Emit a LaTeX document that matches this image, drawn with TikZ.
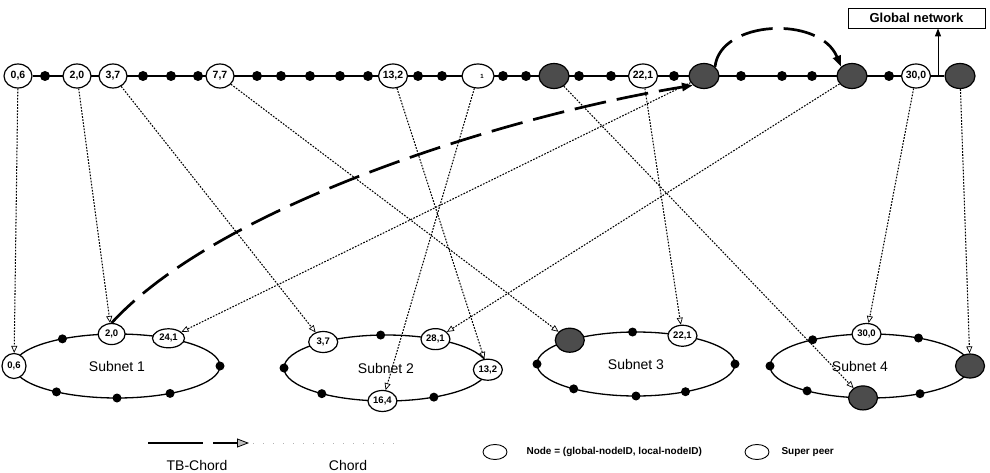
\documentclass[tikz,border=0pt]{standalone}
\usepackage{fontspec}
\setmainfont{Liberation Sans}
\usetikzlibrary{shapes.geometric,arrows.meta,backgrounds}
\begin{document}
\begin{tikzpicture}[x=1pt,y=-1pt,
  ring/.style={line width=2pt},
  subring/.style={line width=1.3pt},
  peer/.style={ellipse,draw,line width=1.2pt,fill=white,inner sep=0pt,
    minimum width=28pt,minimum height=24pt,font=\bfseries\fontsize{10.5}{10.5}\selectfont},
  lpeer/.style={peer,minimum width=29pt,minimum height=21pt,font=\bfseries\fontsize{9.5}{9.5}\selectfont},
  super/.style={ellipse,draw,line width=1.2pt,fill=black!70,inner sep=0pt,
    minimum width=30pt,minimum height=25pt},
  lsuper/.style={super,minimum width=29pt,minimum height=24pt},
  dotnode/.style={circle,fill=black,inner sep=0pt,minimum size=10pt},
  ldot/.style={dotnode,minimum size=9pt},
  chord/.style={line width=1.05pt,dash pattern=on 1.7pt off 1.4pt,
    -{Triangle[open,length=7pt,width=6pt,line width=0.7pt]}},
  tbchord/.style={line width=2.7pt,dash pattern=on 32pt off 11pt,
    -{Triangle[length=11pt,width=8pt]}},
  sublabel/.style={font=\fontsize{14}{14}\selectfont},
  legtext/.style={font=\fontsize{14}{14}\selectfont},
  legsmall/.style={anchor=west,font=\bfseries\fontsize{10}{10}\selectfont},
  legell/.style={ellipse,draw,line width=0.9pt,inner sep=0pt,minimum width=24pt,minimum height=15pt}
  ]
\useasboundingbox (0,0) rectangle (990,473);

% ---------- global ring ----------
\node[peer] (t06) at (18,76) {0,6};
\node[dotnode] (g1) at (45,76) {};
\node[peer] (t20) at (77,76) {2,0};
\node[peer] (t37) at (113,76) {3,7};
\node[dotnode] (g2) at (143,76) {};
\node[dotnode] (g3) at (171,76) {};
\node[dotnode] (g4) at (198,76) {};
\node[peer] (t77) at (220,76) {7,7};
\node[dotnode] (g5) at (257,76) {};
\node[dotnode] (g6) at (281,76) {};
\node[dotnode] (g7) at (310,76) {};
\node[dotnode] (g8) at (340,76) {};
\node[dotnode] (g9) at (368,76) {};
\node[peer] (t132) at (393,76) {13,2};
\node[dotnode] (g10) at (418,76) {};
\node[dotnode] (g11) at (442,76) {};
\node[peer,minimum width=32pt] (tx) at (478,76) {\hspace{8pt}\fontsize{6}{6}\selectfont 1};
\node[dotnode] (g12) at (503,76) {};
\node[dotnode] (g13) at (526,76) {};
\node[super] (sp1) at (554,76) {};
\node[dotnode] (g14) at (579,76) {};
\node[dotnode] (g15) at (611,76) {};
\node[peer] (t221) at (643,76) {22,1};
\node[dotnode] (g16) at (674,76) {};
\node[super] (sp2) at (704,76) {};
\node[dotnode] (g17) at (741,76) {};
\node[dotnode] (g18) at (782,76) {};
\node[dotnode] (g19) at (812,76) {};
\node[super] (sp3) at (852,76) {};
\node[dotnode] (g20) at (889,76) {};
\node[peer] (t300) at (916,76) {30,0};
\node[super] (sp4) at (960,76) {};
\begin{pgfonlayer}{background}
  \draw[ring] (t06) -- (sp4);
\end{pgfonlayer}

% link up to the global network
\node[draw,line width=0.8pt,minimum width=137pt,minimum height=20pt,inner sep=0pt,
  font=\bfseries\fontsize{13}{13}\selectfont] (gnet) at (916.5,18) {Global network};
\coordinate (gbase) at (938,76);
\draw[line width=1pt,-{Triangle[length=8pt,width=6pt]}] (gbase) -- (gbase |- gnet.south);

% ---------- Subnet 1 ----------
\begin{scope}[shift={(117,366)}]
  \draw[subring] (0,0) ellipse [x radius=103pt, y radius=32pt];
  \node[sublabel] (lab1) at (0,0) {Subnet 1};
  \node[lpeer,minimum width=24pt,minimum height=25pt] (s06) at (180:103pt and 32pt) {0,6};
  \node[lpeer,minimum width=27pt] (s20) at (93:103pt and 32pt) {2,0};
  \node[lpeer,minimum width=32pt,minimum height=19pt] (s241) at (60:103pt and 32pt) {24,1};
  \node[ldot] (a1) at (122:103pt and 32pt) {};
  \node[ldot] (a2) at (0:103pt and 32pt) {};
  \node[ldot] (a3) at (-126:103pt and 32pt) {};
  \node[ldot] (a4) at (-90:103pt and 32pt) {};
  \node[ldot] (a5) at (-59:103pt and 32pt) {};
\end{scope}

% ---------- Subnet 2 ----------
\begin{scope}[shift={(386,368)}]
  \draw[subring] (0,0) ellipse [x radius=102pt, y radius=33pt];
  \node[sublabel] (lab2) at (0,0) {Subnet 2};
  \node[lpeer] (s37) at (128:102pt and 33pt) {3,7};
  \node[ldot] (b1) at (93:102pt and 33pt) {};
  \node[lpeer] (s281) at (61:102pt and 33pt) {28,1};
  \node[lpeer] (s132) at (-3:102pt and 33pt) {13,2};
  \node[ldot] (b2) at (180:102pt and 33pt) {};
  \node[ldot] (b3) at (-129:102pt and 33pt) {};
  \node[ldot] (b4) at (-62:102pt and 33pt) {};
  \node[lpeer] (s164) at (-92:102pt and 33pt) {16,4};
\end{scope}

% ---------- Subnet 3 ----------
\begin{scope}[shift={(636,364)}]
  \draw[subring] (0,0) ellipse [x radius=99pt, y radius=32pt];
  \node[sublabel] (lab3) at (0,0) {Subnet 3};
  \node[lsuper] (ss3) at (132:99pt and 32pt) {};
  \node[ldot] (c1) at (92:99pt and 32pt) {};
  \node[lpeer] (s221) at (62:99pt and 32pt) {22,1};
  \node[ldot] (c2) at (180:99pt and 32pt) {};
  \node[ldot] (c3) at (0:99pt and 32pt) {};
  \node[ldot] (c4) at (-129:99pt and 32pt) {};
  \node[ldot] (c5) at (-90:99pt and 32pt) {};
  \node[ldot] (c6) at (-60:99pt and 32pt) {};
\end{scope}

% ---------- Subnet 4 ----------
\begin{scope}[shift={(870,366)}]
  \draw[subring] (0,0) ellipse [x radius=100pt, y radius=32pt];
  \node[sublabel] (lab4) at (-10,0) {Subnet 4};
  \node[lpeer] (s300) at (92:100pt and 32pt) {30,0};
  \node[ldot] (e1) at (125:100pt and 32pt) {};
  \node[ldot] (e2) at (61:100pt and 32pt) {};
  \node[ldot] (e3) at (180:100pt and 32pt) {};
  \node[lsuper] (ss4r) at (0:100pt and 32pt) {};
  \node[lsuper] (ss4b) at (-94:100pt and 32pt) {};
  \node[ldot] (e4) at (-129:100pt and 32pt) {};
  \node[ldot] (e5) at (-60:100pt and 32pt) {};
\end{scope}

% ---------- chords ----------
\draw[chord] (t06) -- (s06);
\draw[chord] (t20) -- (s20);
\draw[chord] (t37) -- (s37);
\draw[chord] (t77) -- (ss3);
\draw[chord] (t132) -- (s132);
\draw[chord] (tx) -- (s164);
\draw[chord] (sp1) -- (ss4b);
\draw[chord] (t221) -- (s221);
\draw[chord] (sp2) -- (s241);
\draw[chord] (sp3) -- (s281);
\draw[chord] (t300) -- (s300);
\draw[chord] (sp4) -- (ss4r);

% ---------- TB-chords ----------
\draw[tbchord] (s20.north) .. controls (220,205) and (505,116) .. (sp2.south west);
\draw[tbchord] (sp2.north east) .. controls (720,20) and (820,15) .. (sp3.north west);

% ---------- legend ----------
\coordinate (tbA) at (148,443);
\coordinate (tbB) at (203,443);
\coordinate (tbC) at (213,443);
\coordinate (tbD) at (249,443);
\draw[line width=2.6pt] (tbA) -- (tbB);
\draw[line width=2.6pt,-{Triangle[length=12pt,width=9pt,fill=black!25,line width=0.8pt]}] (tbC) -- (tbD);
\node[legtext] (tbtext) at (197,465) {TB-Chord};
\coordinate (chA) at (253,443);
\coordinate (chB) at (395,443);
\draw[black!30,line width=0.8pt,dash pattern=on 1pt off 9pt] (chA) -- (chB);
\node[legtext] (chtext) at (348,465) {Chord};
\node[legell] (lg1) at (495,452) {};
\node[legsmall] (lg1t) at (523,452) {Node = (global-nodeID, local-nodeID)};
\node[legell] (lg2) at (757,452) {};
\node[legsmall] (lg2t) at (778,452) {Super peer};
\end{tikzpicture}
\end{document}
